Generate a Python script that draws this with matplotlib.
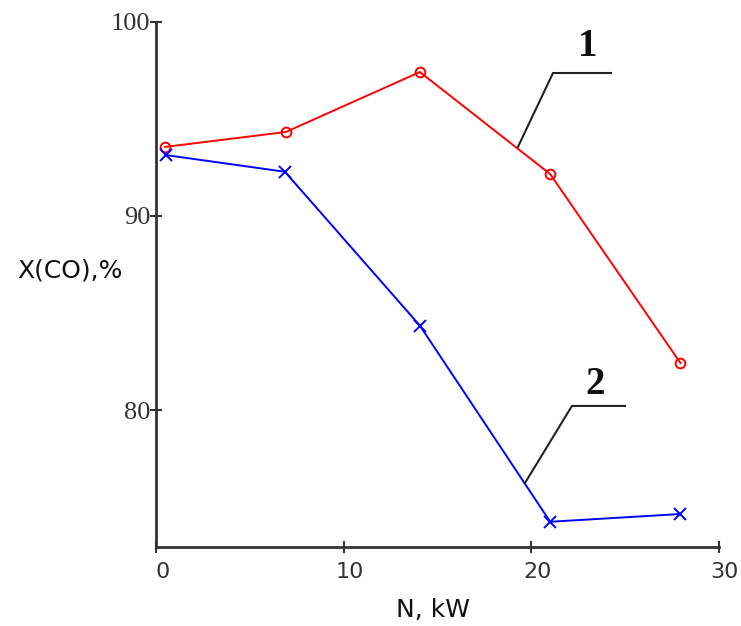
import matplotlib
matplotlib.use("Agg")
import matplotlib.pyplot as plt
import matplotlib.transforms as mtransforms

# power N, kW and CO conversion X(CO), %
n_red = [0.45, 6.9, 14.05, 21.0, 27.95]
x_red = [93.56, 94.33, 97.42, 92.16, 82.42]
n_blue = [0.5, 6.85, 14.05, 21.0, 27.95]
x_blue = [93.14, 92.28, 84.35, 74.24, 74.64]

xticks = [0, 10, 20, 30]
yticks = [80, 90, 100]

fig = plt.figure(figsize=(7.41, 6.26), dpi=100)
ax = fig.add_axes([0.2112, 0.1262, 0.759, 0.8387])

ax.plot(n_red, x_red, color="#ff0000", lw=1.4, marker="o", ms=7,
        mfc="none", mec="#ff0000", mew=1.4)
ax.plot(n_blue, x_blue, color="#0000ff", lw=1.4, marker="x", ms=8,
        mec="#0000ff", mew=1.4)

ax.set_xlim(0, 30)
ax.set_ylim(72.94, 100)

for s in ["top", "right"]:
    ax.spines[s].set_visible(False)
for s in ["left", "bottom"]:
    ax.spines[s].set_color("#333333")
    ax.spines[s].set_linewidth(2)

ax.set_xticks(xticks)
ax.set_yticks(yticks)
ax.set_xticklabels([str(t) for t in xticks], family="DejaVu Sans", fontsize=16,
                   color="#333333")
ax.set_yticklabels([str(t) for t in yticks], family="Liberation Serif", fontsize=19,
                   color="#333333")
ax.tick_params(axis="both", direction="inout", length=9, width=1.5, color="#333333")
ax.tick_params(axis="x", pad=6)
ax.tick_params(axis="y", pad=0)

# x tick labels sit a little right of their ticks in the original
shift = mtransforms.ScaledTranslation(6 / 100, 0, fig.dpi_scale_trans)
for lbl in ax.get_xticklabels():
    lbl.set_transform(lbl.get_transform() + shift)

fig.text(0.095, 0.568, "X(CO),%", ha="center", va="center", fontsize=18,
         family="DejaVu Sans", color="#111111")
fig.text(0.584, 0.026, "N, kW", ha="center", va="center", fontsize=18,
         family="DejaVu Sans", color="#111111")

# curve labels with leader lines
ax.plot([19.28, 21.15, 24.24], [93.56, 97.37, 97.37], color="#222222", lw=1.5)
ax.text(23.0, 98.75, "1", ha="center", va="center", fontsize=28,
        family="Liberation Serif", fontweight="bold", color="#111111")
ax.plot([19.65, 22.16, 24.99], [76.23, 80.21, 80.21], color="#222222", lw=1.5)
ax.text(23.4, 81.3, "2", ha="center", va="center", fontsize=28,
        family="Liberation Serif", fontweight="bold", color="#111111")

fig.savefig("out.png", dpi=100)
